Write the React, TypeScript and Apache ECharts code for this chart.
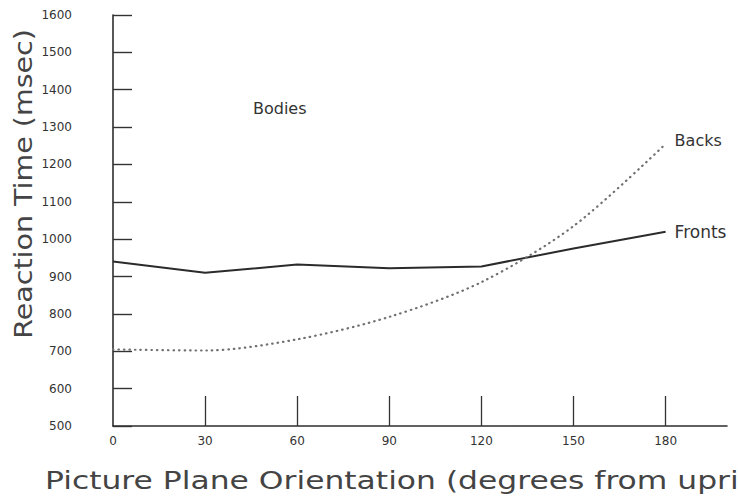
import React, { useEffect, useRef } from "react";
import * as echarts from "echarts";

// Picture plane orientation (degrees from upright)
const orientations = [0, 30, 60, 90, 120, 150, 180];
// Reaction time (msec), Bodies condition
const frontsRT = [940, 910, 932, 922, 927, 975, 1020];
const backsRT = [705, 702, 732, 792, 885, 1035, 1255];
// Axis ticks
const xTickValues = [0, 30, 60, 90, 120, 150, 180];
const xInnerTicks = [30, 60, 90, 120, 150, 180];
const yMin = 500;
const yMax = 1600;
const yStep = 100;
const xMax = 200;

const FONT = "DejaVu Sans";

export default function App() {
  const ref = useRef<HTMLDivElement>(null);

  useEffect(() => {
    const chart = echarts.init(ref.current!, null, { renderer: "svg" });
    chart.setOption({
      animation: false,
      backgroundColor: "#ffffff",
      grid: { left: 113, right: 11, top: 15, bottom: 77 },
      xAxis: {
        type: "value",
        min: 0,
        max: xMax,
        interval: 30,
        axisLine: { show: true, lineStyle: { color: "#2e2e2e", width: 1.6 } },
        axisTick: {
          show: true,
          inside: true,
          length: 30,
          customValues: xInnerTicks,
          lineStyle: { color: "#333", width: 1.3 },
        },
        axisLabel: {
          customValues: xTickValues,
          margin: 9,
          fontSize: 12,
          fontFamily: FONT,
          color: "#333",
          formatter: (v: number) => String(v),
        },
        splitLine: { show: false },
      },
      yAxis: {
        type: "value",
        min: yMin,
        max: yMax,
        interval: yStep,
        axisLine: { show: true, lineStyle: { color: "#2e2e2e", width: 1.6 } },
        axisTick: {
          show: true,
          inside: true,
          length: 19,
          lineStyle: { color: "#333", width: 1.4 },
        },
        axisLabel: {
          margin: 41,
          fontSize: 12,
          fontFamily: FONT,
          color: "#333",
          formatter: (v: number) => String(v),
        },
        splitLine: { show: false },
      },
      series: [
        {
          name: "Fronts",
          type: "line",
          data: orientations.map((x, i) => [x, frontsRT[i]]),
          showSymbol: false,
          symbol: "none",
          lineStyle: { color: "#2b2b2b", width: 2 },
          endLabel: {
            show: true,
            formatter: "Fronts",
            distance: 9,
            fontSize: 17,
            fontFamily: FONT,
            color: "#333",
          },
        },
        {
          name: "Backs",
          type: "line",
          data: orientations.map((x, i) => [x, backsRT[i]]),
          showSymbol: false,
          symbol: "none",
          smooth: 0.3,
          lineStyle: { color: "#707070", width: 2.2, type: [0.5, 5], cap: "round" },
          endLabel: {
            show: true,
            formatter: "Backs",
            distance: 9,
            fontSize: 16,
            fontFamily: FONT,
            color: "#333",
            offset: [0, -3],
          },
        },
      ],
      graphic: [
        {
          type: "text",
          x: 253,
          y: 108,
          style: {
            text: "Bodies",
            fontSize: 16,
            fontFamily: FONT,
            fill: "#333",
            textAlign: "left",
            textVerticalAlign: "middle",
          },
        },
        {
          type: "text",
          x: 23,
          y: 184,
          rotation: Math.PI / 2,
          scaleX: 1.14,
          style: {
            text: "Reaction Time (msec)",
            fontSize: 25,
            fontFamily: FONT,
            fill: "#444",
            textAlign: "center",
            textVerticalAlign: "middle",
          },
        },
        {
          type: "text",
          x: 45,
          y: 481,
          scaleX: 1.255,
          style: {
            text: "Picture Plane Orientation (degrees from upri",
            fontSize: 25,
            fontFamily: FONT,
            fill: "#444",
            textAlign: "left",
            textVerticalAlign: "middle",
          },
        },
      ],
    });
    return () => chart.dispose();
  }, []);

  return (
    <div
      ref={ref}
      style={{ position: "fixed", left: 0, top: 0, width: 738, height: 503 }}
    />
  );
}
